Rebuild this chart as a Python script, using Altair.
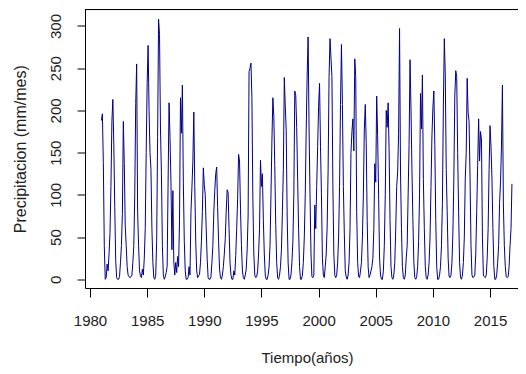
import altair as alt
import pandas as pd

# Monthly precipitation (mm/mes), Jan..Dec
p1981 = [188, 196, 138, 40, 0, 2, 18, 10, 30, 55, 110, 187]
p1982 = [213, 160, 85, 22, 2, 0, 0, 3, 20, 40, 78, 187]
p1983 = [137, 63, 40, 15, 5, 3, 2, 3, 5, 20, 40, 100]
p1984 = [208, 255, 80, 40, 10, 4, 2, 12, 5, 25, 60, 150]
p1985 = [232, 277, 200, 150, 130, 60, 20, 2, 0, 5, 45, 168]
p1986 = [308, 290, 178, 125, 40, 5, 0, 3, 8, 15, 115, 209]
p1987 = [168, 115, 35, 105, 20, 5, 20, 8, 27, 15, 70, 215]
p1988 = [173, 230, 115, 45, 10, 0, 0, 2, 15, 5, 80, 108]
p1989 = [140, 198, 110, 45, 10, 2, 4, 6, 20, 45, 80, 132]
p1990 = [112, 100, 60, 25, 2, 0, 0, 3, 20, 40, 80, 105]
p1991 = [125, 133, 85, 45, 12, 2, 0, 5, 15, 30, 48, 80]
p1992 = [106, 103, 60, 20, 5, 0, 0, 10, 5, 28, 60, 95]
p1993 = [148, 140, 83, 40, 10, 2, 0, 5, 12, 35, 75, 246]
p1994 = [250, 256, 215, 95, 30, 5, 2, 3, 10, 30, 60, 141]
p1995 = [110, 125, 70, 30, 5, 0, 0, 5, 15, 40, 100, 165]
p1996 = [215, 193, 135, 65, 20, 2, 0, 5, 15, 35, 80, 130]
p1997 = [239, 206, 176, 75, 20, 0, 0, 5, 20, 45, 100, 223]
p1998 = [218, 180, 120, 60, 15, 0, 0, 5, 20, 50, 100, 178]
p1999 = [242, 287, 178, 100, 30, 3, 2, 5, 88, 60, 110, 157]
p2000 = [205, 232, 157, 100, 25, 5, 2, 15, 30, 63, 130, 240]
p2001 = [285, 262, 240, 110, 30, 5, 2, 5, 20, 50, 110, 207]
p2002 = [278, 207, 110, 55, 10, 3, 0, 5, 20, 60, 150, 175]
p2003 = [190, 152, 261, 240, 80, 20, 3, 2, 10, 20, 50, 100]
p2004 = [178, 207, 162, 70, 15, 2, 5, 10, 15, 25, 60, 137]
p2005 = [115, 217, 170, 100, 25, 5, 0, 0, 10, 40, 100, 200]
p2006 = [180, 209, 155, 70, 15, 2, 0, 5, 20, 60, 110, 127]
p2007 = [173, 297, 127, 60, 15, 2, 0, 5, 25, 40, 100, 160]
p2008 = [260, 202, 130, 70, 20, 2, 0, 3, 15, 45, 100, 220]
p2009 = [178, 242, 118, 60, 15, 2, 0, 5, 20, 50, 110, 170]
p2010 = [203, 223, 160, 70, 15, 0, 0, 5, 15, 40, 90, 205]
p2011 = [285, 243, 130, 80, 25, 3, 2, 5, 20, 55, 120, 217]
p2012 = [247, 240, 150, 80, 20, 2, 0, 5, 20, 50, 120, 150]
p2013 = [238, 197, 187, 120, 40, 5, 2, 3, 5, 30, 80, 135]
p2014 = [190, 140, 175, 165, 50, 5, 3, 2, 5, 25, 60, 130]
p2015 = [182, 157, 120, 60, 15, 0, 0, 5, 20, 40, 90, 115]
p2016 = [158, 230, 88, 40, 15, 3, 2, 3, 15, 40, 60, 113]

years = list(range(1981, 2017))
series = [p1981, p1982, p1983, p1984, p1985, p1986, p1987, p1988, p1989, p1990,
          p1991, p1992, p1993, p1994, p1995, p1996, p1997, p1998, p1999, p2000,
          p2001, p2002, p2003, p2004, p2005, p2006, p2007, p2008, p2009, p2010,
          p2011, p2012, p2013, p2014, p2015, p2016]

x_ticks = [1980, 1985, 1990, 1995, 2000, 2005, 2010, 2015]
y_ticks = [0, 50, 100, 150, 200, 250, 300]

rows = []
for yr, vals in zip(years, series):
    for m, v in enumerate(vals):
        rows.append({"t": yr + m / 12.0, "p": v})
df = pd.DataFrame(rows)

W = 433
H = 278.5
FONT = "Liberation Sans"

line = alt.Chart(df).mark_line(color="#00008B", strokeWidth=1).encode(
    x=alt.X(
        "t:Q",
        scale=alt.Scale(domain=[1979.563, 1979.563 + W / 11.43], nice=False, zero=False),
        axis=alt.Axis(
            values=x_ticks, format="d", grid=False, tickSize=9, labelPadding=16,
            labelBaseline="top", labelFont=FONT, labelFontSize=15, labelColor="#222",
            tickColor="black", domainColor="black", labelOverlap=False,
            title="Tiempo(años)", titleFont=FONT, titleFontSize=15,
            titleFontWeight="normal", titleColor="#222",
            titleX=222, titleY=69, titleBaseline="middle", titleAlign="center",
        ),
    ),
    y=alt.Y(
        "p:Q",
        scale=alt.Scale(domain=[-10.3, 319.5], nice=False, zero=False),
        axis=alt.Axis(
            values=y_ticks, grid=False, tickSize=8, labelPadding=13.5,
            labelAngle=270, labelAlign="center", labelBaseline="bottom",
            labelFont=FONT, labelFontSize=15, labelColor="#222",
            tickColor="black", domainColor="black", labelOverlap=False,
            title="Precipitacion (mm/mes)", titleFont=FONT, titleFontSize=16,
            titleFontWeight="normal", titleColor="#222",
            titleAngle=270, titleX=-65, titleY=H / 2,
            titleBaseline="middle", titleAlign="center",
        ),
    ),
)

top_border = alt.Chart(pd.DataFrame({"a": [0]})).mark_rule(
    color="black", strokeWidth=1
).encode(x=alt.value(0), x2=alt.value(W), y=alt.value(0))

chart = alt.layer(line, top_border).properties(
    width=W,
    height=H,
    autosize=alt.AutoSizeParams(type="none"),
    padding={"left": 77, "top": 1.5, "right": 0, "bottom": 78},
).configure_view(stroke=None).configure(background="white")

chart.save("out.html", embed_options={"renderer": "svg", "actions": False})
